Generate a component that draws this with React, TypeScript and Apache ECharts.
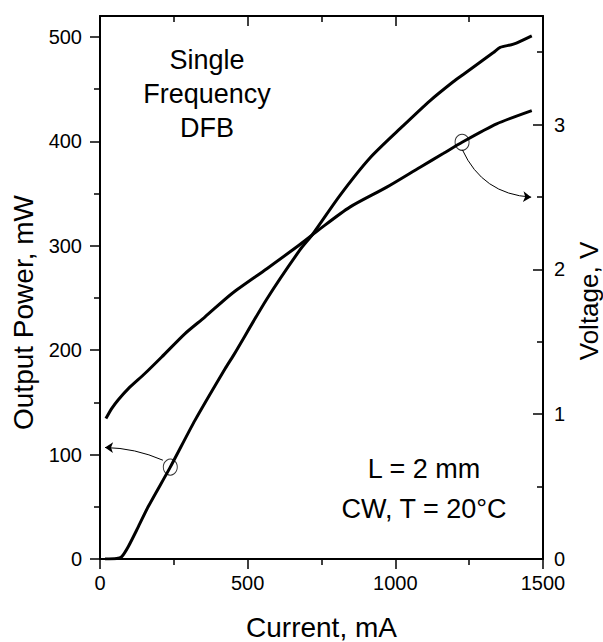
import React, { useEffect, useRef } from "react";
import * as echarts from "echarts";

// Output power curve (left axis)
const powerCurrent = [17, 56, 73, 96, 130, 163, 238, 322, 423, 452, 565, 677, 720, 812, 914, 1027, 1118, 1196, 1230, 1332, 1355, 1400, 1462];
const powerMW = [0, 0.5, 2, 12, 31, 50, 88, 133, 182, 195, 249, 296, 311, 348, 384, 415, 439, 457, 464, 485, 490, 493, 501];

// Voltage curve (right axis)
const voltageCurrent = [20, 40, 62, 96, 152, 209, 288, 355, 446, 565, 677, 745, 846, 971, 1084, 1162, 1226, 1343, 1462];
const voltageV = [0.97, 1.04, 1.1, 1.177, 1.281, 1.395, 1.557, 1.671, 1.832, 2.005, 2.172, 2.28, 2.43, 2.568, 2.706, 2.8, 2.878, 3.005, 3.097];

// Ticks
const xMajorTicks = [0, 500, 1000, 1500];
const xMinorTicks = [250, 750, 1250];
const powerMajorTicks = [0, 100, 200, 300, 400, 500];
const powerMinorTicks = [50, 150, 250, 350, 450];
const voltageMajorTicks = [0, 1, 2, 3];
const voltageMinorTicks = [0.5, 1.5, 2.5, 3.5];

// Annotation markers and arrows (data coordinates)
const powerMarker = [238, 88];
const voltageMarker = [1226, 2.878];
const powerArrow = [[213, 94.6], [17, 106.8]];
const voltageArrow = [[1227, 2.826], [1460, 2.499]];

const FONT = "'Liberation Sans', Arial, sans-serif";

export default function App() {
  const ref = useRef<HTMLDivElement>(null);
  useEffect(() => {
    document.body.style.margin = "0";
    const chart = echarts.init(ref.current!, null, { renderer: "svg" });
    const box = { left: 100, right: 60, top: 16, bottom: 83, containLabel: false, outerBoundsMode: "none" };
    const line = { color: "#000", width: 2 };
    const tickStyle = { color: "#000", width: 1.5 };
    const plain = (v: number) => String(v);
    const hidden = {
      splitLine: { show: false },
      axisLabel: { show: false },
    };
    const xRange = { type: "value", min: 0, max: 1500 };
    const pRange = { type: "value", min: 0, max: 520 };
    const vRange = { type: "value", min: 0, max: 3.75 };

    const option: any = {
      animation: false,
      backgroundColor: "#fff",
      grid: [box, { ...box }],
      xAxis: [
        {
          ...xRange, gridIndex: 0, position: "bottom",
          splitLine: { show: false },
          axisLine: { show: true, onZero: false, lineStyle: line },
          axisTick: { show: true, inside: false, length: 10, customValues: xMajorTicks, lineStyle: tickStyle },
          axisLabel: { show: true, customValues: xMajorTicks, formatter: plain, margin: 14, fontSize: 20, color: "#000", fontFamily: FONT },
          name: "Current, mA", nameLocation: "middle", nameGap: 54,
          nameTextStyle: { fontSize: 28, color: "#000", fontFamily: FONT },
        },
        {
          ...xRange, gridIndex: 0, position: "top", ...hidden,
          axisLine: { show: true, onZero: false, lineStyle: line },
          axisTick: { show: true, inside: true, length: 10, customValues: xMajorTicks, lineStyle: tickStyle },
        },
        {
          ...xRange, gridIndex: 1, position: "bottom", ...hidden,
          axisLine: { show: false, onZero: false },
          axisTick: { show: true, inside: false, length: 6, customValues: xMinorTicks, lineStyle: tickStyle },
        },
        {
          ...xRange, gridIndex: 1, position: "top", ...hidden,
          axisLine: { show: false, onZero: false },
          axisTick: { show: true, inside: true, length: 6, customValues: xMinorTicks, lineStyle: tickStyle },
        },
      ],
      yAxis: [
        {
          ...pRange, gridIndex: 0, position: "left",
          splitLine: { show: false },
          axisLine: { show: true, onZero: false, lineStyle: line },
          axisTick: { show: true, inside: false, length: 10, customValues: powerMajorTicks, lineStyle: tickStyle },
          axisLabel: { show: true, customValues: powerMajorTicks, formatter: plain, margin: 18, fontSize: 20, color: "#000", fontFamily: FONT },
          name: "Output Power, mW", nameLocation: "middle", nameGap: 63,
          nameTextStyle: { fontSize: 28, color: "#000", fontFamily: FONT, padding: [0, 50, 0, 0] },
        },
        {
          ...vRange, gridIndex: 0, position: "right",
          splitLine: { show: false },
          axisLine: { show: true, onZero: false, lineStyle: line },
          axisTick: { show: true, inside: true, length: 10, customValues: voltageMajorTicks, lineStyle: tickStyle },
          axisLabel: { show: true, customValues: voltageMajorTicks, formatter: plain, margin: 11, fontSize: 20, color: "#000", fontFamily: FONT },
          name: "Voltage, V", nameLocation: "middle", nameGap: 28,
          nameTextStyle: { fontSize: 26, color: "#000", fontFamily: FONT, padding: [0, 27, 0, 0] },
        },
        {
          ...pRange, gridIndex: 1, position: "left", ...hidden,
          axisLine: { show: false, onZero: false },
          axisTick: { show: true, inside: false, length: 6, customValues: powerMinorTicks, lineStyle: tickStyle },
        },
        {
          ...vRange, gridIndex: 1, position: "right", ...hidden,
          axisLine: { show: false, onZero: false },
          axisTick: { show: true, inside: true, length: 6, customValues: voltageMinorTicks, lineStyle: tickStyle },
        },
      ],
      series: [
        {
          name: "Output Power", type: "line", xAxisIndex: 0, yAxisIndex: 0,
          data: powerCurrent.map((c, i) => [c, powerMW[i]]),
          showSymbol: false, smooth: 0.25,
          lineStyle: { color: "#000", width: 3 },
        },
        {
          name: "Voltage", type: "line", xAxisIndex: 0, yAxisIndex: 1,
          data: voltageCurrent.map((c, i) => [c, voltageV[i]]),
          showSymbol: false, smooth: 0.25,
          lineStyle: { color: "#000", width: 3 },
        },
        {
          type: "scatter", xAxisIndex: 0, yAxisIndex: 0, data: [powerMarker],
          symbol: "circle", symbolSize: [14, 16], z: 5,
          itemStyle: { color: "rgba(0,0,0,0)", borderColor: "#000", borderWidth: 1 },
        },
        {
          type: "scatter", xAxisIndex: 0, yAxisIndex: 1, data: [voltageMarker],
          symbol: "circle", symbolSize: [14, 16], z: 5,
          itemStyle: { color: "rgba(0,0,0,0)", borderColor: "#000", borderWidth: 1 },
        },
        {
          type: "lines", coordinateSystem: "cartesian2d", xAxisIndex: 0, yAxisIndex: 0,
          data: [{ coords: powerArrow }],
          symbol: ["none", "arrow"], symbolSize: 8,
          lineStyle: { color: "#000", width: 1, curveness: -0.1, opacity: 1 },
        },
        {
          type: "lines", coordinateSystem: "cartesian2d", xAxisIndex: 0, yAxisIndex: 1,
          data: [{ coords: voltageArrow }],
          symbol: ["none", "arrow"], symbolSize: 8,
          lineStyle: { color: "#000", width: 1, curveness: -0.3, opacity: 1 },
        },
      ],
      graphic: [
        {
          type: "text", x: 207, y: 94,
          style: {
            text: "Single\nFrequency\nDFB", fill: "#000", fontSize: 27, fontFamily: FONT,
            align: "center", verticalAlign: "middle", lineHeight: 34,
          },
        },
        {
          type: "text", x: 424, y: 489,
          style: {
            text: "L = 2 mm\nCW, T = 20°C", fill: "#000", fontSize: 27, fontFamily: FONT,
            align: "center", verticalAlign: "middle", lineHeight: 40,
          },
        },
      ],
    };
    chart.setOption(option);
    return () => chart.dispose();
  }, []);
  return <div ref={ref} style={{ width: 603, height: 642 }} />;
}
